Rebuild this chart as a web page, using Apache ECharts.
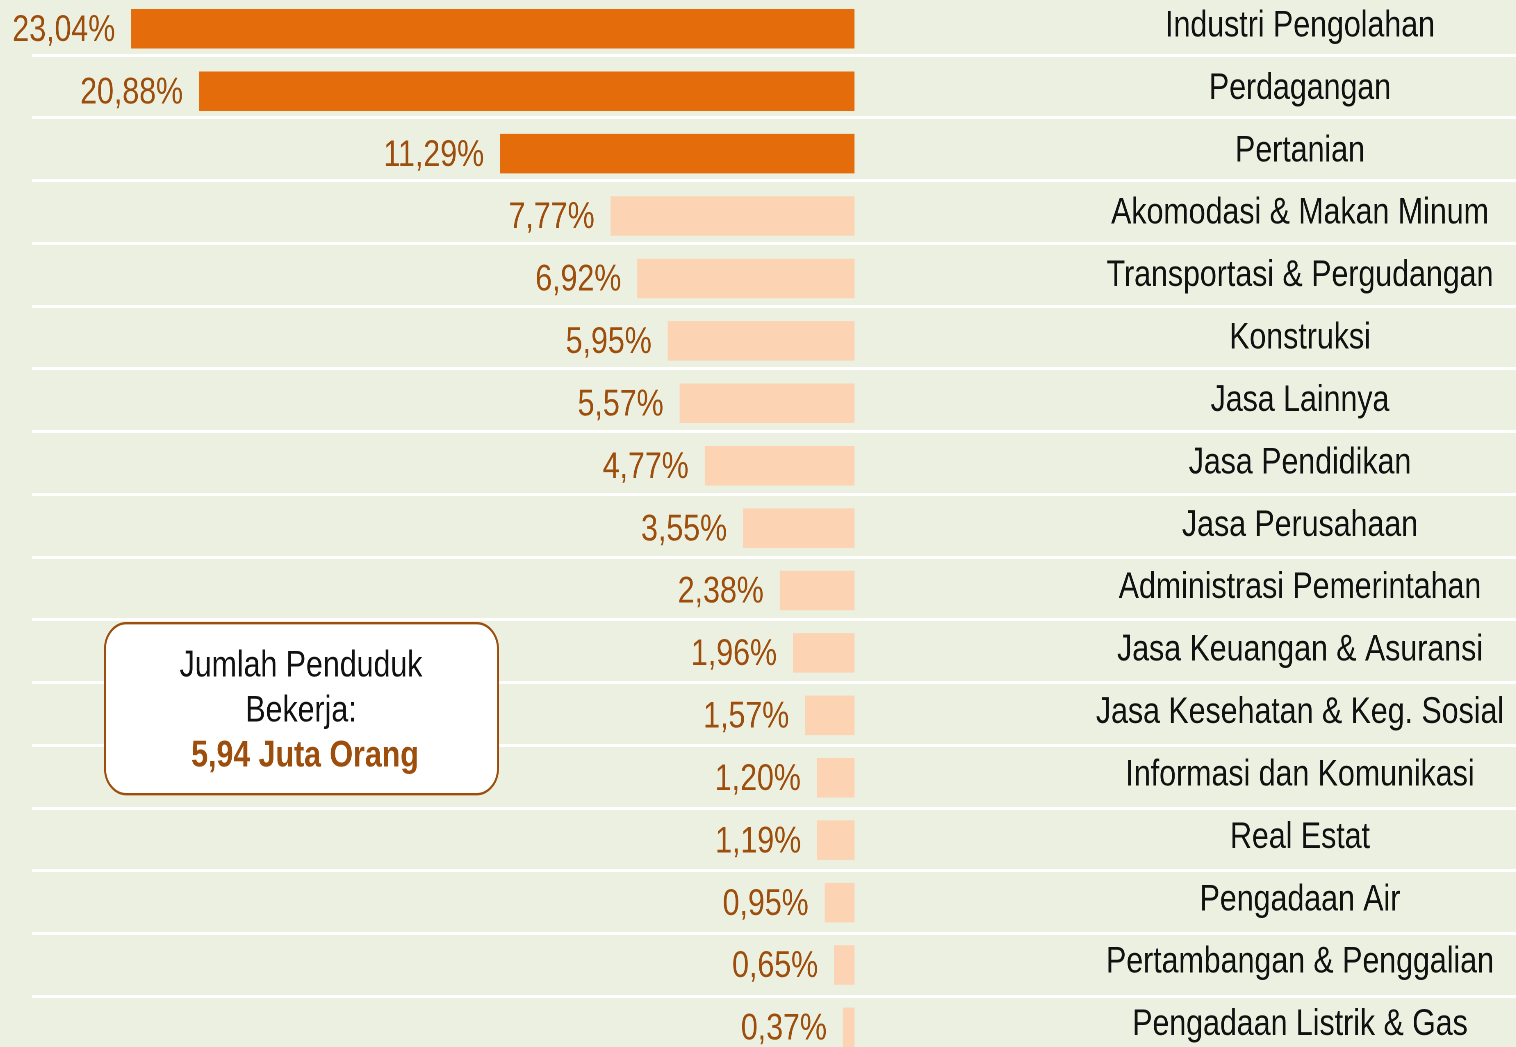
<!DOCTYPE html>
<html>
<head>
<meta charset="utf-8">
<title>Penduduk Bekerja menurut Lapangan Usaha</title>
<script src="https://cdn.jsdelivr.net/npm/echarts@6/dist/echarts.min.js"></script>
<style>
  html, body { margin: 0; padding: 0; background: #ECF0E0; overflow: hidden; width: 1516px; height: 1047px; }
  /* the chart is laid out wide and condensed horizontally, giving a narrow typeface look */
  #chart { width: 1849px; height: 1047px; transform: scaleX(0.82); transform-origin: 0 0; }
</style>
</head>
<body>
<div id="chart"></div>
<script>
// Lapangan usaha, urut dari persentase terbesar
const categories = [
  'Industri Pengolahan',
  'Perdagangan',
  'Pertanian',
  'Akomodasi & Makan Minum',
  'Transportasi & Pergudangan',
  'Konstruksi',
  'Jasa Lainnya',
  'Jasa Pendidikan',
  'Jasa Perusahaan',
  'Administrasi Pemerintahan',
  'Jasa Keuangan & Asuransi',
  'Jasa Kesehatan & Keg. Sosial',
  'Informasi dan Komunikasi',
  'Real Estat',
  'Pengadaan Air',
  'Pertambangan & Penggalian',
  'Pengadaan Listrik & Gas'
];

// Persentase penduduk bekerja (%)
const shares = [23.04, 20.88, 11.29, 7.77, 6.92, 5.95, 5.57, 4.77, 3.55, 2.38, 1.96, 1.57, 1.20, 1.19, 0.95, 0.65, 0.37];

const totalLines = ['Jumlah Penduduk', 'Bekerja:'];
const totalValue = '5,94 Juta Orang';

const FONT = '"Liberation Sans", Arial, sans-serif';
const FONT_SIZE = 37;
const ORANGE = '#E56C0A';
const PEACH = '#FCD3B3';
const BROWN = '#9E4E0C';
const TOP_N = 3;

// horizontal condensing applied to the container
const SX = 0.82;
const px = v => v / SX;

const fmt = v => v.toFixed(2).replace('.', ',') + '%';

const chart = echarts.init(document.getElementById('chart'), null, { renderer: 'canvas', devicePixelRatio: 2 });

const zeroX = px(854.5);
const ROWS_TOP = -2.4;
const ROWS_HEIGHT = 1061;

chart.setOption({
  backgroundColor: '#ECF0E0',
  animation: false,
  grid: [
    // bars
    { left: 0, width: zeroX, top: ROWS_TOP, height: ROWS_HEIGHT, containLabel: false, outerBoundsMode: 'none' },
    // row separators
    { left: px(32), right: 0, top: -7.73, height: 1066.4, containLabel: false, outerBoundsMode: 'none' },
    // category names, set slightly above the bar centres
    { left: 0, width: zeroX, top: ROWS_TOP - 2.5, height: ROWS_HEIGHT, containLabel: false, outerBoundsMode: 'none' }
  ],
  xAxis: [
    { gridIndex: 0, type: 'value', inverse: true, min: 0, max: 27.22, show: false },
    { gridIndex: 1, type: 'value', min: 0, max: 1, show: false },
    { gridIndex: 2, type: 'value', min: 0, max: 1, show: false }
  ],
  yAxis: [
    {
      gridIndex: 0,
      type: 'category',
      data: categories,
      inverse: true,
      show: false
    },
    {
      gridIndex: 1,
      type: 'category',
      data: categories,
      inverse: true,
      axisLine: { show: false },
      axisTick: { show: false },
      axisLabel: { show: false },
      splitLine: { show: true, interval: 0, lineStyle: { color: '#FFFFFF', width: 3 } }
    },
    {
      gridIndex: 2,
      type: 'category',
      data: categories,
      inverse: true,
      position: 'right',
      axisLine: { show: false },
      axisTick: { show: false },
      splitLine: { show: false },
      axisLabel: {
        interval: 0,
        margin: px(1300) - zeroX,
        align: 'center',
        color: '#111111',
        fontFamily: FONT,
        fontSize: FONT_SIZE
      }
    }
  ],
  series: [
    {
      type: 'bar',
      xAxisIndex: 0,
      yAxisIndex: 0,
      data: shares,
      barWidth: 39.5,
      itemStyle: {
        color: p => (p.dataIndex < TOP_N ? ORANGE : PEACH)
      },
      label: {
        show: true,
        position: 'left',
        distance: px(16),
        offset: [0, 2],
        color: BROWN,
        fontFamily: FONT,
        fontSize: FONT_SIZE,
        formatter: p => fmt(p.value)
      }
    }
  ],
  graphic: [
    {
      type: 'group',
      left: px(104),
      top: 622,
      z: 100,
      children: [
        {
          type: 'rect',
          z: 100,
          shape: { x: 0, y: 0, width: px(393), height: 171, r: 26 },
          style: { fill: '#FFFFFF', stroke: BROWN, lineWidth: 2.4 }
        },
        {
          type: 'text',
          z: 101,
          x: px(196),
          y: 43,
          style: {
            text: totalLines[0], fill: '#111111', font: FONT_SIZE + 'px ' + FONT,
            textAlign: 'center', textVerticalAlign: 'middle'
          }
        },
        {
          type: 'text',
          z: 101,
          x: px(196),
          y: 88,
          style: {
            text: totalLines[1], fill: '#111111', font: FONT_SIZE + 'px ' + FONT,
            textAlign: 'center', textVerticalAlign: 'middle'
          }
        },
        {
          type: 'text',
          z: 101,
          x: px(200),
          y: 133,
          style: {
            text: totalValue, fill: BROWN, font: 'bold ' + FONT_SIZE + 'px ' + FONT,
            textAlign: 'center', textVerticalAlign: 'middle'
          }
        }
      ]
    }
  ]
});
</script>
</body>
</html>
